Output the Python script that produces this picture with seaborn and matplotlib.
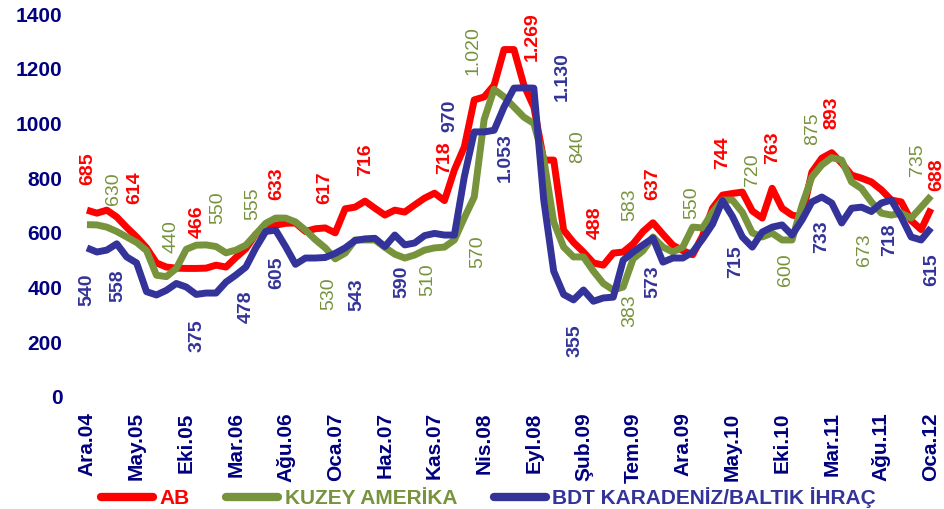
import matplotlib
matplotlib.use("Agg")
import matplotlib.pyplot as plt
import numpy as np
import pandas as pd
import seaborn as sns

# monthly values, Ara.04 .. Oca.12 (86 months)
ab = [683, 672, 683, 658, 620, 585, 545, 490, 475, 471,
      470, 470, 471, 482, 475, 510, 542, 595, 616, 628,
      635, 636, 605, 615, 618, 600, 688, 694, 716, 690,
      665, 683, 676, 702, 727, 745, 718, 830, 914, 1086,
      1097, 1140, 1270, 1270, 1140, 1060, 866, 866, 610, 565,
      530, 490, 482, 526, 530, 560, 605, 637, 595, 555,
      535, 520, 590, 690, 738, 744, 749, 680, 654, 763,
      690, 665, 658, 822, 873, 893, 855, 811, 800, 786,
      757, 720, 713, 645, 612, 688]

kuzey = [630, 629, 621, 605, 585, 565, 535, 445, 440, 470,
         540, 555, 556, 550, 527, 537, 555, 595, 635, 654,
         654, 640, 610, 575, 545, 505, 526, 574, 574, 574,
         547, 522, 508, 519, 537, 545, 548, 574, 655, 731,
         1015, 1125, 1097, 1060, 1023, 1000, 870, 640, 548, 512,
         512, 460, 415, 391, 402, 505, 535, 585, 548, 530,
         548, 621, 618, 676, 720, 720, 675, 600, 585, 599,
         574, 574, 700, 804, 848, 875, 866, 786, 762, 713,
         672, 665, 672, 654, 694, 735]

bdt = [545, 530, 537, 560, 512, 490, 385, 373, 390, 415,
       402, 375, 380, 380, 420, 446, 475, 545, 605, 610,
       550, 485, 508, 508, 510, 525, 545, 572, 578, 580,
       550, 592, 556, 563, 590, 598, 592, 592, 805, 969,
       969, 975, 1060, 1129, 1130, 1129, 720, 460, 375, 355,
       391, 350, 362, 365, 500, 530, 556, 581, 493, 508,
       508, 530, 578, 632, 718, 660, 585, 548, 603, 621,
       629, 592, 647, 713, 731, 709, 636, 690, 694, 678,
       709, 720, 658, 585, 574, 618]

tick_labels = ['Ara.04', 'May.05', 'Eki.05', 'Mar.06', 'Ağu.06', 'Oca.07',
               'Haz.07', 'Kas.07', 'Nis.08', 'Eyl.08', 'Şub.09', 'Tem.09',
               'Ara.09', 'May.10', 'Eki.10', 'Mar.11', 'Ağu.11', 'Oca.12']

series_names = ['AB', 'KUZEY AMERİKA', 'BDT KARADENİZ/BALTIK İHRAÇ']
colors = ['#FF0000', '#77933C', '#333399']

# value labels: (month position, height, text)
labels_ab = [(0.10, 833, '685'), (4.83, 764, '614'), (11.08, 640, '466'),
             (19.13, 779, '633'), (23.97, 764, '617'), (28.10, 866, '716'),
             (36.05, 874, '718'), (44.81, 1319, '1.269'), (51.16, 636, '488'),
             (57.0, 779, '637'), (64.05, 892, '744'), (69.08, 910, '763'),
             (75.03, 1038, '893'), (85.6, 811, '688')]
labels_kuzey = [(2.72, 760, '630'), (8.46, 585, '440'), (13.19, 691, '550'),
                (16.72, 705, '555'), (24.37, 376, '530'), (34.34, 428, '510'),
                (39.38, 530, '570'), (38.87, 1265, '1.020'), (49.45, 917, '840'),
                (54.68, 702, '583'), (54.68, 314, '383'), (60.93, 709, '550'),
                (67.07, 830, '720'), (70.39, 464, '600'), (73.11, 980, '875'),
                (78.35, 537, '673'), (83.59, 866, '735')]
labels_bdt = [(0.0, 391, '540'), (3.12, 406, '558'), (11.08, 223, '375'),
              (16.01, 329, '478'), (19.13, 453, '605'), (27.19, 373, '543'),
              (31.72, 420, '590'), (36.56, 1027, '970'), (42.09, 874, '1.053'),
              (47.83, 1170, '1.130'), (49.14, 205, '355'), (57.0, 420, '573'),
              (65.36, 493, '715'), (74.02, 585, '733'), (80.87, 574, '718'),
              (85.09, 464, '615')]

n = len(ab)
df = pd.DataFrame({
    'ay': list(range(n)) * 3,
    'deger': ab + kuzey + bdt,
    'seri': [series_names[0]] * n + [series_names[1]] * n + [series_names[2]] * n,
})

sns.set_theme(style='white')
plt.rcParams['font.family'] = ['Liberation Sans', 'DejaVu Sans']

fig = plt.figure(figsize=(9.45, 5.09), dpi=100)
ax = fig.add_axes([82 / 945, 112 / 509, 854 / 945, 383 / 509])

sns.lineplot(data=df, x='ay', y='deger', hue='seri', hue_order=series_names,
             palette=colors, linewidth=5, legend=False, ax=ax)
for line in ax.get_lines():
    line.set_solid_joinstyle('round')
    line.set_solid_capstyle('butt')

ax.set_xlim(-0.5, n - 0.5)
ax.set_ylim(0, 1400)
ax.set_xticks(range(0, n, 5))
ax.set_xticklabels(tick_labels, rotation=90)
ax.set_yticks(range(0, 1401, 200))
ax.set_xlabel('')
ax.set_ylabel('')
navy = '#000080'
ax.tick_params(axis='both', length=0, labelsize=15, labelcolor=navy)
ax.tick_params(axis='y', pad=14)
ax.tick_params(axis='x', pad=11)
for t in ax.get_xticklabels() + ax.get_yticklabels():
    t.set_fontweight('bold')
sns.despine(ax=ax, left=True, bottom=True)

for lbls, col, wt in [(labels_ab, colors[0], 'bold'),
                      (labels_kuzey, colors[1], 'normal'),
                      (labels_bdt, colors[2], 'bold')]:
    for xm, yv, txt in lbls:
        ax.text(xm, yv, txt, rotation=90, ha='center', va='center',
                fontsize=14, color=col, fontweight=wt)

handles = ax.get_lines()[:3]
leg_handles = [plt.Line2D([], [], color=c, linewidth=6, solid_capstyle='round')
               for c in colors]
leg = fig.legend(leg_handles, series_names, loc='center left',
                 bbox_to_anchor=(101 / 945, 11 / 509), ncol=3, frameon=False,
                 handlelength=2.5, handletextpad=0.31, columnspacing=1.75,
                 borderpad=0, borderaxespad=0,
                 prop={'weight': 'bold', 'size': 15})
for txt, col in zip(leg.get_texts(), colors):
    txt.set_color(col)

fig.savefig('out.png', dpi=100)
